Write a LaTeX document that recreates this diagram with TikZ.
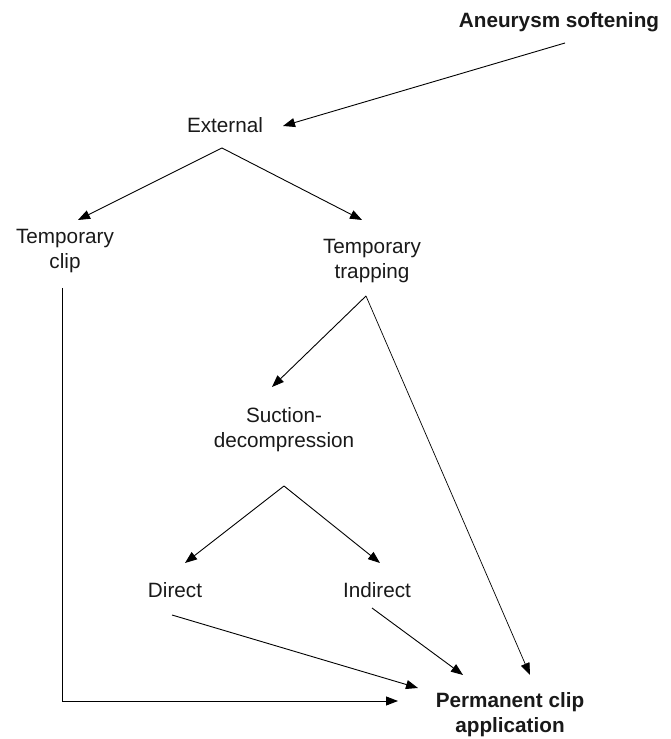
\documentclass[tikz,border=0pt]{standalone}
\usepackage{fontspec}
\setmainfont{Liberation Sans}
\usepackage{tikz}
\usetikzlibrary{arrows.meta,calc,positioning}

\begin{document}
\begin{tikzpicture}[->,>={Triangle[length=12pt,width=9pt]},x=1pt,y=1pt,line width=0.9pt,align=center]

    \tikzstyle{every node}=[inner sep=0pt,font=\fontsize{20.7}{25}\selectfont,text=black!90]
    \tikzstyle{goal}=[font=\fontsize{20.7}{25}\selectfont\bfseries]

    \useasboundingbox (0,0) rectangle (670,739);

    \node[goal] (aneu)  at (559,717)   {Aneurysm softening};
    \node (ext)         at (225,614)   {External};
    \node (tclip)       at (65,487.5)  {Temporary\\clip};
    \node (ttrap)       at (372,477.5) {Temporary\\trapping};
    \node (suct)        at (284,309.5) {Suction-\\decompression};
    \node (dir)         at (175,149)   {Direct};
    \node (indir)       at (377,149)   {Indirect};
    \node[goal] (perm)  at (510,24.5)  {Permanent clip\\application};

    \draw ($(aneu)+(6,-21)$)   -- ($(ext)+(58,-1)$);
    \draw ($(ext)+(-3,-23)$)   -- ($(tclip)+(13,31.5)$);
    \draw ($(ext)+(-3,-23)$)   -- ($(ttrap)+(-10,41.5)$);
    \draw ($(tclip)+(-3,-36.5)$) |- ($(perm)+(-112,13.5)$);
    \draw ($(ttrap)+(-6,-34.5)$) -- ($(suct)+(-12,42.5)$);
    \draw[line width=0.7pt] ($(ttrap)+(-6,-34.5)$) -- ($(perm)+(20,39.5)$);
    \draw ($(suct)+(0,-56.5)$) -- ($(dir)+(10,27)$);
    \draw ($(suct)+(0,-56.5)$) -- ($(indir)+(3,27)$);
    \draw ($(dir)+(-3,-25)$)   -- ($(perm)+(-92,26.5)$);
    \draw ($(indir)+(-5,-18)$) -- ($(perm)+(-47,39.5)$);
\end{tikzpicture}
\end{document}
